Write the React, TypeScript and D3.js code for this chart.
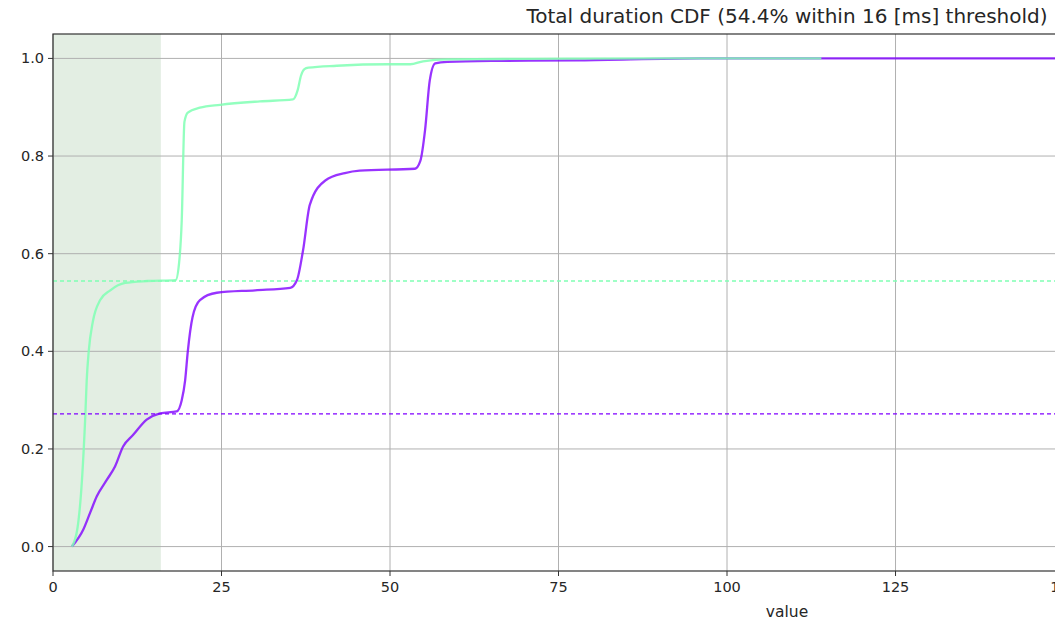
import React from 'react';
import * as d3 from 'd3';

// CDF series (value, cumulative fraction)
const greenX = [2.8, 3.6, 4.3, 4.8, 5.0, 5.3, 5.9, 7.0, 8.5, 10.7, 14.0, 18.2, 18.7, 19.1, 19.5, 20.0, 21.8, 24.8, 30.7, 35.6, 36.3, 36.8, 37.3, 37.9, 42.1, 49.7, 53.0, 54.9, 58.5, 70, 90, 114];
const greenY = [0, 0.035, 0.137, 0.27, 0.34, 0.40, 0.46, 0.505, 0.525, 0.54, 0.544, 0.546, 0.58, 0.668, 0.87, 0.889, 0.899, 0.905, 0.912, 0.916, 0.935, 0.965, 0.978, 0.981, 0.985, 0.988, 0.988, 0.994, 0.998, 0.999, 1.0, 1.0];

const purpleX = [2.8, 4.5, 5.5, 6.5, 8.0, 9.2, 10.4, 11.9, 13.9, 15.9, 18.35, 19.1, 19.6, 20.0, 20.7, 21.8, 24.3, 30, 35.2, 36.2, 37.1, 38.1, 40.4, 43.3, 45.5, 53.7, 54.5, 55.2, 55.9, 56.7, 58.5, 66.3, 78.2, 96, 217.8];
const purpleY = [0, 0.035, 0.069, 0.103, 0.137, 0.164, 0.205, 0.229, 0.26, 0.273, 0.277, 0.30, 0.34, 0.40, 0.47, 0.505, 0.52, 0.525, 0.53, 0.546, 0.607, 0.70, 0.75, 0.765, 0.77, 0.774, 0.79, 0.853, 0.955, 0.99, 0.993, 0.995, 0.996, 1.0, 1.0];

const thresholdMs = 16;
const greenLevel = 0.544;
const purpleLevel = 0.272;
const xTicks = [0, 25, 50, 75, 100, 125, 150, 175, 200];
const yTicks = [0, 0.2, 0.4, 0.6, 0.8, 1.0];
const titleText = 'Total duration CDF (54.4% within 16 [ms] threshold)';

const GREEN = '#80ffb4';
const PURPLE = '#8000ff';

const W = 1055;
const H = 621;
const left = 53;
const right = 1521; // axes run past the window edge
const top = 34;
const bottom = 571;

const App = () => {
  const x = d3.scaleLinear().domain([0, 217.8]).range([left, right]);
  const y = d3.scaleLinear().domain([-0.05, 1.05]).range([bottom, top]);

  const line = d3.line<[number, number]>()
    .x(d => x(d[0]))
    .y(d => y(d[1]))
    .curve(d3.curveMonotoneX);

  const green = greenX.map((v, i) => [v, greenY[i]] as [number, number]);
  const purple = purpleX.map((v, i) => [v, purpleY[i]] as [number, number]);

  const font = 'DejaVu Sans, sans-serif';
  const cx = (left + right) / 2;

  return (
    <svg width={W} height={H} style={{ position: 'absolute', left: 0, top: 0, background: '#fff' }}>
      <defs>
        <clipPath id="plot">
          <rect x={left} y={top} width={right - left} height={bottom - top} />
        </clipPath>
      </defs>

      {/* threshold shading */}
      <rect x={x(0)} y={top} width={x(thresholdMs) - x(0)} height={bottom - top} fill="#e3eee3" />

      {/* grid */}
      {xTicks.map(t => (
        <line key={'gx' + t} x1={x(t)} x2={x(t)} y1={top} y2={bottom} stroke="#b0b0b0" strokeWidth={1} />
      ))}
      {yTicks.map(t => (
        <line key={'gy' + t} x1={left} x2={right} y1={y(t)} y2={y(t)} stroke="#b0b0b0" strokeWidth={1} />
      ))}

      <g clipPath="url(#plot)">
        <path d={line(purple) || ''} fill="none" stroke={PURPLE} strokeWidth={2.3} strokeOpacity={0.8} />
        <path d={line(green) || ''} fill="none" stroke={GREEN} strokeWidth={2.3} strokeOpacity={0.85} />
        <line x1={left} x2={right} y1={y(greenLevel)} y2={y(greenLevel)} stroke={GREEN} strokeWidth={1.3} strokeDasharray="4,3" />
        <line x1={left} x2={right} y1={y(purpleLevel)} y2={y(purpleLevel)} stroke={PURPLE} strokeWidth={1.3} strokeDasharray="4,3" />
      </g>

      {/* spines */}
      <rect x={left} y={top} width={right - left} height={bottom - top} fill="none" stroke="#333" strokeWidth={1.2} />

      {/* x axis ticks */}
      {xTicks.map(t => (
        <g key={'tx' + t}>
          <line x1={x(t)} x2={x(t)} y1={bottom} y2={bottom + 5} stroke="#333" />
          <text x={x(t)} y={bottom + 21} textAnchor="middle" fontFamily={font} fontSize={14.5} fill="#262626">{t}</text>
        </g>
      ))}

      {/* y axis ticks */}
      {yTicks.map(t => (
        <g key={'ty' + t}>
          <line x1={left - 5} x2={left} y1={y(t)} y2={y(t)} stroke="#333" />
          <text x={left - 9} y={y(t)} dy="0.35em" textAnchor="end" fontFamily={font} fontSize={14.5} fill="#262626">{d3.format('.1f')(t)}</text>
        </g>
      ))}

      <text x={cx} y={617} textAnchor="middle" fontFamily={font} fontSize={15.5} fill="#262626">value</text>
      <text x={cx} y={22.5} textAnchor="middle" fontFamily={font} fontSize={20} fill="#262626">{titleText}</text>
    </svg>
  );
};

export default App;
